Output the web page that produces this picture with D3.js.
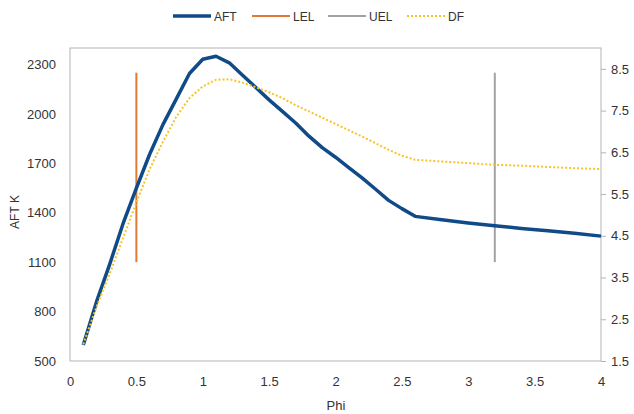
<!DOCTYPE html>
<html><head><meta charset="utf-8">
<script src="https://cdn.jsdelivr.net/npm/d3@7"></script>
<style>
body{margin:0;background:#fff;}
svg{display:block;}
text{font-family:"Liberation Sans",Arial,sans-serif;fill:#333;}
</style></head>
<body><svg id="c" width="634" height="414"></svg>
<script>
const phi = [0.1,0.2,0.3,0.4,0.5,0.6,0.7,0.8,0.9,1.0,1.1,1.2,1.3,1.4,1.5,1.6,1.7,1.8,1.9,2.0,2.1,2.2,2.3,2.4,2.5,2.6,2.8,3.0,3.2,3.4,3.6,3.8,4.0];
const aft = [597,860,1090,1335,1550,1755,1935,2090,2245,2332,2350,2310,2235,2160,2085,2015,1945,1865,1795,1737,1674,1612,1544,1475,1425,1378,1357,1338,1321,1305,1290,1275,1258];
const df  = [1.9,2.8,3.6,4.45,5.3,6.1,6.75,7.35,7.8,8.08,8.24,8.25,8.17,8.06,7.94,7.8,7.63,7.48,7.33,7.18,7.03,6.88,6.72,6.56,6.42,6.32,6.28,6.24,6.2,6.18,6.15,6.12,6.1];
const lelX = [0.5,0.5], lelY = [1100,2250];
const uelX = [3.2,3.2], uelY = [1100,2250];
const xTicks = [0,0.5,1,1.5,2,2.5,3,3.5,4];
const yLeftTicks = [500,800,1100,1400,1700,2000,2300];
const yRightTicks = [1.5,2.5,3.5,4.5,5.5,6.5,7.5,8.5];
const seriesNames = ["AFT","LEL","UEL","DF"];
const colors = {AFT:"#104b87",LEL:"#e07b35",UEL:"#a3a3a3",DF:"#f7c325"};

const svg = d3.select("#c");
const L=70,R=601,T=48,B=361;
const x = d3.scaleLinear().domain([0,4]).range([L,R]);
const yL = d3.scaleLinear().domain([500,2400]).range([B,T]);
const yR = d3.scaleLinear().domain([1.5,9.0]).range([B,T]);

// frame
svg.append("rect").attr("x",L).attr("y",T).attr("width",R-L).attr("height",B-T)
  .attr("fill","none").attr("stroke","#b4b4b4").attr("stroke-width",1);

// axes
const ax = svg.append("g").attr("transform",`translate(0,${B})`)
  .call(d3.axisBottom(x).tickValues(xTicks).tickSize(0).tickPadding(16).tickFormat(d3.format("")));
ax.select(".domain").remove();
ax.selectAll("text").attr("font-size",13).attr("fill","#333");

const ayl = svg.append("g").attr("transform",`translate(${L},0)`)
  .call(d3.axisLeft(yL).tickValues(yLeftTicks).tickSize(0).tickPadding(14).tickFormat(d3.format("d")));
ayl.select(".domain").remove();
ayl.selectAll("text").attr("font-size",13).attr("fill","#333");

const ayr = svg.append("g").attr("transform",`translate(${R},0)`)
  .call(d3.axisRight(yR).tickValues(yRightTicks).tickSize(5).tickPadding(5).tickFormat(d3.format(".1f")));
ayr.select(".domain").remove();
ayr.selectAll("line").attr("stroke","#b4b4b4");
ayr.selectAll("text").attr("font-size",13).attr("fill","#333");

// titles
svg.append("text").attr("x",336).attr("y",410).attr("text-anchor","middle").attr("font-size",13).text("Phi");
svg.append("text").attr("transform","translate(19,212) rotate(-90)").attr("text-anchor","middle").attr("font-size",12).text("AFT K");

// lines
const lineL = d3.line().x(d=>x(d[0])).y(d=>yL(d[1]));
const lineR = d3.line().x(d=>x(d[0])).y(d=>yR(d[1]));
svg.append("path").datum(d3.zip(lelX,lelY)).attr("d",lineL).attr("fill","none").attr("stroke",colors.LEL).attr("stroke-width",2);
svg.append("path").datum(d3.zip(uelX,uelY)).attr("d",lineL).attr("fill","none").attr("stroke",colors.UEL).attr("stroke-width",2);
svg.append("path").datum(d3.zip(phi,aft)).attr("d",lineL).attr("fill","none").attr("stroke",colors.AFT).attr("stroke-width",3.5).attr("stroke-linejoin","round");
svg.append("path").datum(d3.zip(phi,df)).attr("d",lineR).attr("fill","none").attr("stroke",colors.DF).attr("stroke-width",2).attr("stroke-dasharray","2,2");

// legend
const legX = [173,252,328,407];
const lg = svg.append("g");
seriesNames.forEach((n,i)=>{
  const g = lg.append("g").attr("transform",`translate(${legX[i]},16)`);
  g.append("line").attr("x1",0).attr("x2",38).attr("y1",0).attr("y2",0)
    .attr("stroke",colors[n]).attr("stroke-width",n==="AFT"?3.5:2)
    .attr("stroke-dasharray",n==="DF"?"2,2":null);
  g.append("text").attr("x",41).attr("y",5).attr("font-size",12).text(n);
});
</script></body></html>
